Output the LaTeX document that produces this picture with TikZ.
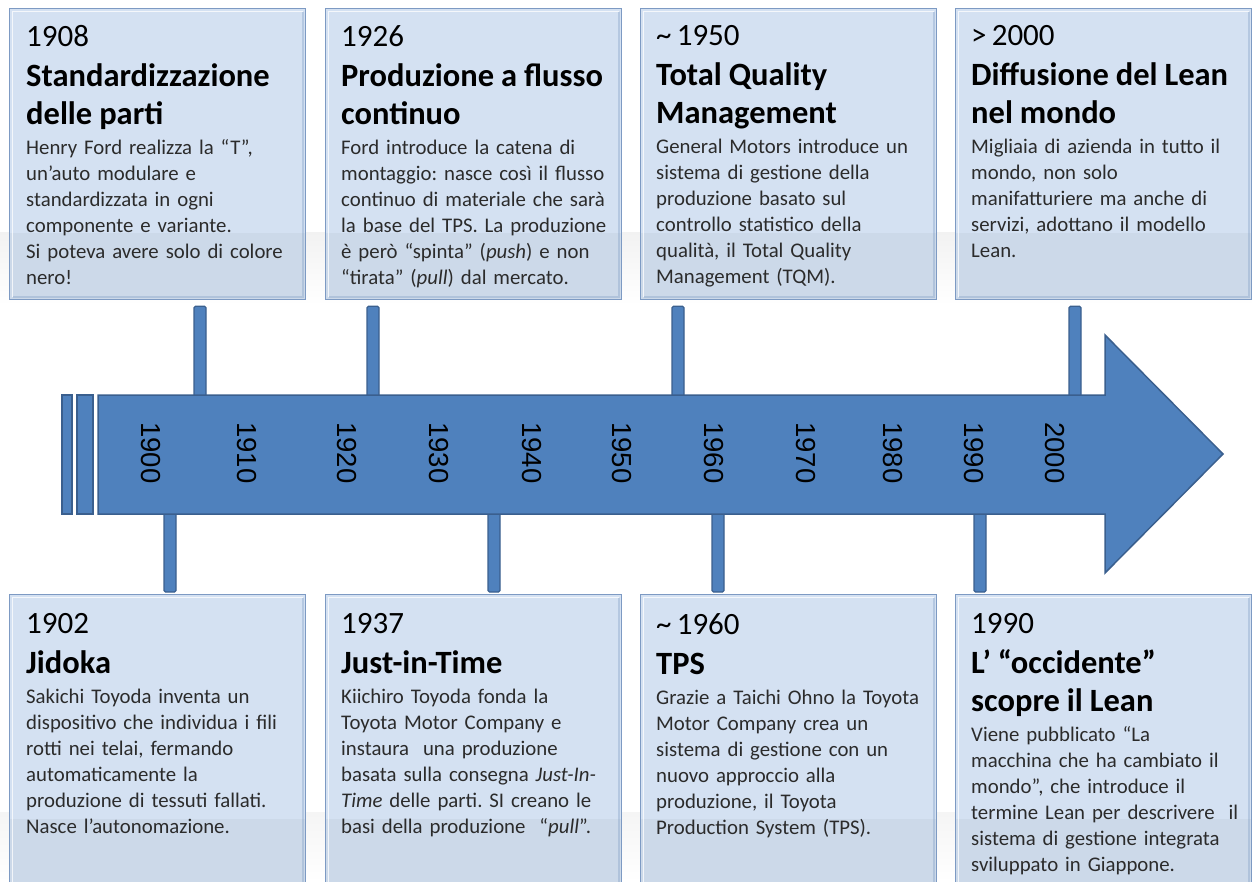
\documentclass[tikz,border=0pt]{standalone}
\usepackage{fontspec}
\setmainfont{Carlito}
\newfontfamily\yearfont{Liberation Sans}
\usetikzlibrary{positioning,calc}

\definecolor{arrowblue}{HTML}{4F81BD}
\definecolor{arrowline}{HTML}{3A5F8E}
\definecolor{boxfill}{HTML}{D4E1F2}
\definecolor{boxline}{HTML}{7D9AC3}
\definecolor{bodytext}{HTML}{2B2B2B}

\newcommand{\evyear}[1]{{\color{black}\fontsize{31}{38}\selectfont #1\par}\vspace{2pt}}
\newcommand{\evtitle}[1]{{\color{black}\fontsize{32.5}{38}\selectfont\bfseries #1\par}\vspace{4pt}}

\begin{document}
\begin{tikzpicture}[x=1pt, y=-1pt,
  evbox/.style={draw=boxline, fill=boxfill, line width=1.2pt, anchor=north west,
    minimum width=296pt, inner sep=0pt,
    path picture={
      \fill[black, opacity=.035] ([yshift=-224pt]path picture bounding box.north west)
        rectangle (path picture bounding box.south east);
      \draw[white, opacity=.75, line width=1.5pt]
        ([xshift=3pt,yshift=3pt]path picture bounding box.south west)
        -- ([xshift=3pt,yshift=-3pt]path picture bounding box.north west)
        -- ([xshift=-3pt,yshift=-3pt]path picture bounding box.north east);
      \draw[boxline, opacity=.35, line width=2pt]
        ([xshift=-3pt,yshift=-3pt]path picture bounding box.north east)
        -- ([xshift=-3pt,yshift=3pt]path picture bounding box.south east)
        -- ([xshift=3pt,yshift=3pt]path picture bounding box.south west);
    }},
  evtext/.style={anchor=north west, inner sep=0pt, text width=288pt, align=left,
    font=\fontsize{20.8}{26}\selectfont\frenchspacing, text=bodytext},
  connbar/.style={fill=arrowblue, draw=arrowline, line width=1.2pt, rounded corners=1.5pt},
  arrowshape/.style={fill=arrowblue, draw=arrowline, line width=1.5pt, line join=miter},
  yearlbl/.style={rotate=-90, inner sep=0pt, font=\yearfont\fontsize{27.5}{30}\selectfont}]
\useasboundingbox (0,0) rectangle (1252,882);
\clip (0,0) rectangle (1252,882);

% reflection bands
\shade[top color=gray!10, bottom color=white] (0,233) rectangle (1252,305);
\shade[top color=gray!8, bottom color=white] (0,812) rectangle (1252,882);

% Events above the arrow
\node[evbox, minimum height=291pt] (e1908) at (9,8) {};
\node[evbox, minimum height=291pt] (e1926) at (325,8) {};
\node[evbox, minimum height=291pt] (e1950) at (640,8) {};
\node[evbox, minimum height=291pt] (e2000) at (955,8) {};

% Events below the arrow
\node[evbox, minimum height=300pt] (e1902) at (9,594) {};
\node[evbox, minimum height=300pt] (e1937) at (325,594) {};
\node[evbox, minimum height=300pt] (e1960) at (640,594) {};
\node[evbox, minimum height=300pt] (e1990) at (955,594) {};

\node[evtext] (t1908) at (26,25.5) {\evyear{1908}\evtitle{Standardizzazione\\delle parti}%
  Henry Ford realizza la “T”,\\un’auto modulare e\\standardizzata in ogni\\componente e variante.\\Si poteva avere solo di colore\\nero!};
\node[evtext] (t1926) at (341,25.5) {\evyear{1926}\evtitle{Produzione a flusso\\continuo}%
  Ford introduce la catena di\\montaggio: nasce così il flusso\\continuo di materiale che sarà\\la base del TPS. La produzione\\è però “spinta” (\textit{push}) e non\\“tirata” (\textit{pull}) dal mercato.};
\node[evtext] (t1950) at (656,25.5) {\evyear{\textasciitilde\,1950}\evtitle{Total Quality\\Management}%
  General Motors introduce un\\sistema di gestione della\\produzione basato sul\\controllo statistico della\\qualità, il Total Quality\\Management (TQM).};
\node[evtext] (t2000) at (971,25.5) {\evyear{>\,2000}\evtitle{Diffusione del Lean\\nel mondo}%
  Migliaia di azienda in tutto il\\mondo, non solo\\manifatturiere ma anche di\\servizi, adottano il modello\\Lean.};

\node[evtext] (t1902) at (26,613.5) {\evyear{1902}\evtitle{Jidoka}%
  Sakichi Toyoda inventa un\\dispositivo che individua i fili\\rotti nei telai, fermando\\automaticamente la\\produzione di tessuti fallati.\\Nasce l’autonomazione.};
\node[evtext] (t1937) at (341,613.5) {\evyear{1937}\evtitle{Just-in-Time}%
  Kiichiro Toyoda fonda la\\Toyota Motor Company e\\instaura\ \ una produzione\\basata sulla consegna \textit{Just-In-}\\\textit{Time} delle parti. SI creano le\\basi della produzione\ \ “\textit{pull}”.};
\node[evtext] (t1960) at (656,613.5) {\evyear{\textasciitilde\,1960}\evtitle{TPS}%
  Grazie a Taichi Ohno la Toyota\\Motor Company crea un\\sistema di gestione con un\\nuovo approccio alla\\produzione, il Toyota\\Production System (TPS).};
\node[evtext] (t1990) at (971,613.5) {\evyear{1990}\evtitle{L’ “occidente”\\scopre il Lean}%
  Viene pubblicato “La\\macchina che ha cambiato il\\mondo”, che introduce il\\termine Lean per descrivere\ \ il\\sistema di gestione integrata\\sviluppato in Giappone.};

% Shaft edges
\coordinate (shafttop) at (0,395);
\coordinate (shaftbot) at (0,514);

% Connectors
\foreach \ev/\cx in {e1908/200, e1926/373, e1950/678, e2000/1075} {
  \coordinate (c) at (\cx,0);
  \draw[connbar] ($(\ev.south -| c)+(-6,6)$) rectangle ($(shafttop -| c)+(6,4)$);
}
\foreach \ev/\cx in {e1902/170, e1937/494, e1960/718, e1990/980} {
  \coordinate (c) at (\cx,0);
  \draw[connbar] ($(shaftbot -| c)+(-6,-4)$) rectangle ($(\ev.north -| c)+(6,-2)$);
}

% Timeline arrow
\draw[arrowshape] (62,395) rectangle (72,514);
\draw[arrowshape] (77,395) rectangle (93,514);
\draw[arrowshape] (98,395) -- (1105,395) -- (1105,335) -- (1223,454)
  -- (1105,573) -- (1105,514) -- (98,514) -- cycle;

% Decades
\foreach \yr/\yx in {1900/151, 1910/247, 1920/347, 1930/439, 1940/532, 1950/622,
                     1960/714, 1970/806, 1980/893, 1990/974, 2000/1055}
  \node[yearlbl] (y\yr) at (\yx,453) {\yr};
\end{tikzpicture}
\end{document}
